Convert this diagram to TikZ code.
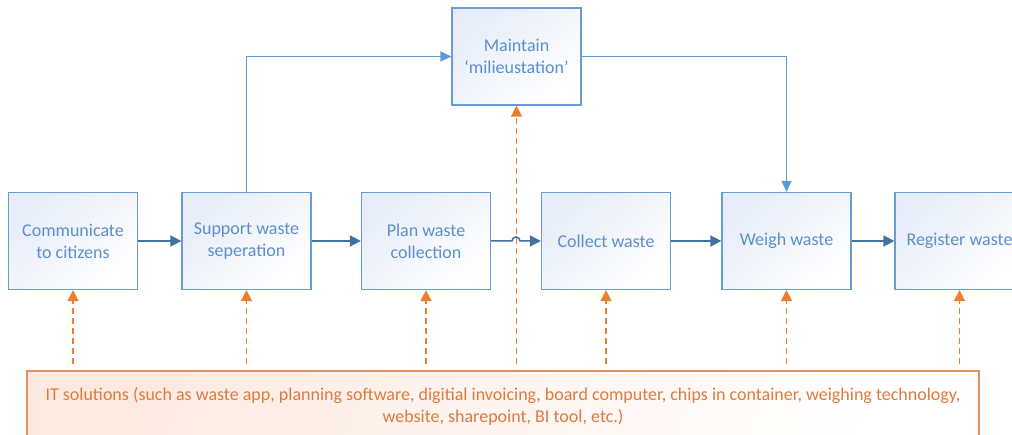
\documentclass[tikz,border=0pt]{standalone}
\usepackage{fontspec}
\setmainfont{Carlito}
\usetikzlibrary{arrows.meta}

\definecolor{boxline}{HTML}{6A9BD3}
\definecolor{boxtext}{HTML}{5B8FCB}
\definecolor{boxtint}{HTML}{E6ECF8}
\definecolor{flowblue}{HTML}{41719C}
\definecolor{linkblue}{HTML}{5B9BD5}
\definecolor{itorange}{HTML}{ED7D31}
\definecolor{itline}{HTML}{E39060}
\definecolor{ittext}{HTML}{DD7A3E}
\definecolor{ittint}{HTML}{FCEAE2}

\tikzset{
  stepbox/.style={draw=boxline, line width=1.2pt, top color=boxtint, bottom color=white,
    shading angle=40, minimum width=129pt, minimum height=97pt, inner sep=2pt,
    align=center, text=boxtext, font=\fontsize{18}{22}\selectfont},
  itbox/.style={draw=itline, line width=1.3pt, top color=ittint, bottom color=white,
    shading angle=70, minimum width=952pt, minimum height=70pt,
    align=center, text=ittext, font=\fontsize{18}{22}\selectfont},
  flow/.style={draw=flowblue, line width=1.5pt, -{Triangle[length=11pt,width=11pt]}},
  link/.style={draw=linkblue, line width=1.4pt, -{Triangle[length=11pt,width=10pt]}},
  itlink/.style={draw=itorange, line width=1.5pt, dash pattern=on 6pt off 4pt,
    -{Triangle[length=11pt,width=11pt]}},
}

\begin{document}
\begin{tikzpicture}[x=1pt,y=-1pt]
\useasboundingbox (0,0) rectangle (1012,435);
\clip (0,0) rectangle (1012,435);

% process steps
\node[stepbox] (b1) at (73,241)    {Communicate\\to citizens};
\node[stepbox] (b2) at (246.5,241) {Support waste\\seperation};
\node[stepbox] (b3) at (426,241)   {Plan waste\\collection};
\node[stepbox] (b4) at (606,241)   {Collect waste};
\node[stepbox] (b5) at (786.5,241) {Weigh waste};
\node[stepbox] (b6) at (959.5,241) {Register waste};
\node[stepbox] (m)  at (516.5,56.5) {Maintain\\‘milieustation’};

% IT support band
\node[itbox] (it) at (503,406) {IT solutions (such as waste app, planning software, digitial invoicing, board computer, chips in container, weighing technology,\\website, sharepoint, BI tool, etc.)};

% main flow
\draw[flow] (b1) -- (b2);
\draw[flow] (b2) -- (b3);
\coordinate (hop) at (512,241);
\draw[flow] (b3.east) -- (hop) arc[start angle=180, end angle=360, radius=4] -- (b4.west);
\draw[flow] (b4) -- (b5);
\draw[flow] (b5) -- (b6);

% side loop through the milieustation
\draw[link] (b2.north) |- (m.west);
\draw[link] (m.east) -| (b5.north);

% IT support arrows
\coordinate (itTop) at (0,364);
\coordinate (s1) at (b1.south |- itTop);
\coordinate (s2) at (b2.south |- itTop);
\coordinate (s3) at (b3.south |- itTop);
\coordinate (sm) at (m.south |- itTop);
\coordinate (s4) at (b4.south |- itTop);
\coordinate (s5) at (b5.south |- itTop);
\coordinate (s6) at (b6.south |- itTop);
\draw[itlink] (s1) -- (b1.south);
\draw[itlink] (s2) -- (b2.south);
\draw[itlink] (s3) -- (b3.south);
\draw[itlink] (sm) -- (m.south);
\draw[itlink] (s4) -- (b4.south);
\draw[itlink] (s5) -- (b5.south);
\draw[itlink] (s6) -- (b6.south);
\end{tikzpicture}
\end{document}
